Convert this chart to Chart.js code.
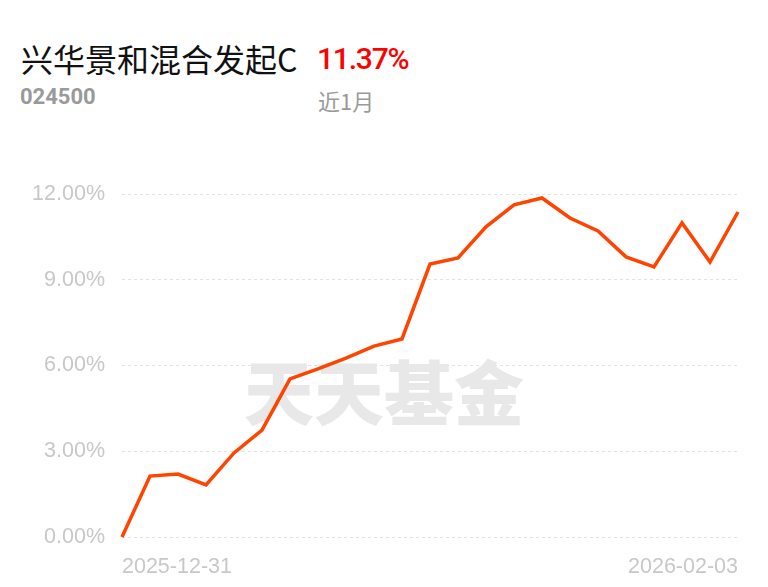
<!DOCTYPE html>
<html>
<head>
<meta charset="utf-8">
<script src="https://cdn.jsdelivr.net/npm/chart.js@4.4.1/dist/chart.umd.min.js"></script>
<style>
  html, body { margin: 0; padding: 0; background: #fff; width: 768px; height: 587px; overflow: hidden; }
  body { position: relative; font-family: "Noto Sans CJK SC", "Noto Sans", sans-serif; }
  .name { position: absolute; left: 21px; top: 36px; font-size: 32px; color: #111; line-height: 44px; }
  .rate { position: absolute; left: 317px; top: 37px; font-size: 30px; letter-spacing: -1.2px; font-weight: 500; color: #ff0000; font-family: Roboto, sans-serif; line-height: 44px; }
  .code { position: absolute; left: 20px; top: 82px; font-size: 22px; color: #9a9a9a; font-weight: bold; font-family: Roboto, sans-serif; line-height: 30px; }
  .period { position: absolute; left: 318px; top: 84px; font-size: 22px; color: #9a9a9a; line-height: 32px; }
  #wrap { position: absolute; left: 0; top: 150px; width: 768px; height: 437px; }
</style>
</head>
<body>
<div class="name">兴华景和混合发起C</div>
<div class="rate">11.37%</div>
<div class="code">024500</div>
<div class="period">近1月</div>
<div id="wrap"><canvas id="chart"></canvas></div>
<script>
// trading days in the last month
const dates = ['2025-12-31', '2026-01-05', '2026-01-06', '2026-01-07', '2026-01-08', '2026-01-09',
    '2026-01-12', '2026-01-13', '2026-01-14', '2026-01-15', '2026-01-16',
    '2026-01-19', '2026-01-20', '2026-01-21', '2026-01-22', '2026-01-23',
    '2026-01-26', '2026-01-27', '2026-01-28', '2026-01-29', '2026-01-30',
    '2026-02-02', '2026-02-03'];
// cumulative return, %
const returns = [0, 2.13, 2.20, 1.82, 2.94, 3.74, 5.53, 5.88, 6.26, 6.68, 6.93,
    9.55, 9.76, 10.85, 11.62, 11.86, 11.16, 10.71, 9.80, 9.45, 10.99, 9.62, 11.37];
const yTicks = [0, 3, 6, 9, 12];

// light watermark behind the line
const watermark = {
    id: 'watermark',
    beforeDatasetsDraw(chart) {
        const ctx = chart.ctx;
        ctx.save();
        ctx.fillStyle = '#e8e8e8';
        ctx.font = '900 70px "Noto Sans CJK SC"';
        ctx.textAlign = 'center';
        ctx.textBaseline = 'middle';
        ctx.fillText('天天基金', 384, 243);
        ctx.restore();
    }
};

const ctx = document.getElementById('chart').getContext('2d');
new Chart(ctx, {
    type: 'line',
    data: {
        labels: dates,
        datasets: [{
            data: returns,
            borderColor: '#ff4400',
            borderWidth: 3.5,
            pointRadius: 0,
            tension: 0,
            fill: false,
            clip: false
        }]
    },
    options: {
        responsive: true,
        maintainAspectRatio: false,
        animation: false,
        layout: { padding: { top: 44, right: 30, left: 0, bottom: 0 } },
        plugins: { legend: { display: false }, tooltip: { enabled: false } },
        scales: {
            x: {
                grid: { display: false, drawTicks: false },
                border: { display: false },
                ticks: {
                    autoSkip: false,
                    maxRotation: 0,
                    align: 'inner',
                    padding: 17,
                    color: '#c8c8c8',
                    font: { family: '"Liberation Sans"', size: 21.5 },
                    callback: function (v, i) {
                        return (i === 0 || i === dates.length - 1) ? dates[i] : '';
                    }
                },
                afterFit(scale) { scale.height = 50; }
            },
            y: {
                min: 0,
                max: 12,
                afterBuildTicks(scale) { scale.ticks = yTicks.map(v => ({ value: v })); },
                grid: { color: '#e2e2e2', lineWidth: 1, drawTicks: false },
                border: { display: false, dash: [3, 3] },
                ticks: {
                    padding: 17,
                    color: '#c8c8c8',
                    font: { family: '"Liberation Sans"', size: 21.5 },
                    callback: v => v.toFixed(2) + '%'
                },
                afterFit(scale) { scale.width = 122; }
            }
        }
    },
    plugins: [watermark]
});
</script>
</body>
</html>
